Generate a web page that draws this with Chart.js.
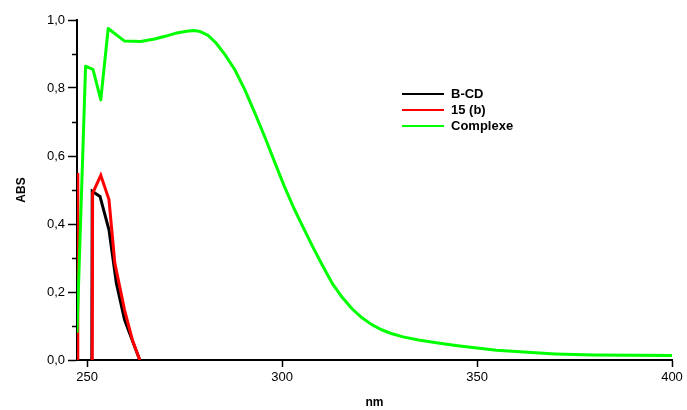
<!DOCTYPE html>
<html>
<head>
<meta charset="utf-8">
<script src="https://cdn.jsdelivr.net/npm/chart.js@4.4.1/dist/chart.umd.min.js"></script>
<style>
  html, body { margin: 0; padding: 0; background: #fff; }
  #wrap { position: relative; width: 687px; height: 410px; }
  #legend { position: absolute; left: 402px; top: 86px; font-family: 'Liberation Sans', Arial, sans-serif; font-weight: bold; font-size: 13px; color: #000; }
  .row { position: relative; height: 16px; line-height: 16px; white-space: nowrap; }
  .sw { position: absolute; left: 0; top: 7px; width: 42px; height: 2px; }
  .lb { position: absolute; left: 49px; top: 0; }
</style>
</head>
<body>
<div id="wrap">
  <canvas id="c" width="687" height="410"></canvas>
  <div id="legend"></div>
</div>
<script>
// ---- Data ----
const seriesNames = ['B-CD', '15 (b)', 'Complexe'];
const seriesColors = ['#000000', '#ff0000', '#00ff00'];

const bcdNm  = [251.0, 251.3, 253.3, 255.6, 257.5, 259.6, 262.2, 263.5];
const bcdAbs = [-1.0, 0.496, 0.481, 0.383, 0.226, 0.118, 0.039, 0.0];

const b15Nm  = [247.4, 247.6, 251.1, 251.4, 253.5, 255.6, 257.1, 259.6, 261.6, 263.5];
const b15Abs = [0.55, -1.0, -1.0, 0.490, 0.543, 0.472, 0.285, 0.147, 0.059, 0.0];

const cplxNm  = [247.4, 249.6, 251.5, 253.5, 255.4, 259.6, 263.7, 267.3, 270.0, 273.0, 275.5, 277.5, 279.0, 281.0, 283.0, 285.3, 287.8, 290.4, 293.0, 295.6, 298.0, 300.5, 303.0, 305.5, 308.0, 310.5, 313.0, 315.5, 318.0, 320.5, 323.0, 325.5, 328.0, 331.0, 335.0, 340.0, 345.0, 350.0, 355.0, 360.0, 365.0, 370.0, 375.0, 380.0, 390.0, 400.0];
const cplxAbs = [0.08, 0.864, 0.855, 0.765, 0.975, 0.938, 0.937, 0.944, 0.952, 0.962, 0.967, 0.969, 0.966, 0.955, 0.933, 0.899, 0.855, 0.796, 0.727, 0.655, 0.585, 0.513, 0.447, 0.388, 0.330, 0.275, 0.223, 0.183, 0.150, 0.124, 0.104, 0.089, 0.078, 0.068, 0.059, 0.050, 0.042, 0.035, 0.029, 0.025, 0.021, 0.018, 0.016, 0.015, 0.014, 0.013];

const xTicks = [250, 300, 350, 400];
const yMinorTicks = [0.1, 0.3, 0.5, 0.7, 0.9];
const xTitle = 'nm';
const yTitle = 'ABS';

// ---- Build ----
function pts(xs, ys) { return xs.map((x, i) => ({ x: x, y: ys[i] })); }

const FONT = "'Liberation Sans', Arial, sans-serif";

const minorTicksPlugin = {
  id: 'minorTicks',
  afterDraw(chart) {
    const y = chart.scales.y;
    const ctx = chart.ctx;
    ctx.save();
    ctx.strokeStyle = '#000';
    ctx.lineWidth = 1.5;
    yMinorTicks.forEach(v => {
      const py = Math.round(y.getPixelForValue(v)) + 0.5;
      ctx.beginPath();
      ctx.moveTo(y.right - 5, py);
      ctx.lineTo(y.right, py);
      ctx.stroke();
    });
    ctx.restore();
  }
};

new Chart(document.getElementById('c'), {
  type: 'scatter',
  data: {
    datasets: [
      { label: seriesNames[0], data: pts(bcdNm, bcdAbs), borderColor: seriesColors[0], showLine: true, pointRadius: 0, borderWidth: 3, tension: 0, order: 3 },
      { label: seriesNames[1], data: pts(b15Nm, b15Abs), borderColor: seriesColors[1], showLine: true, pointRadius: 0, borderWidth: 3, tension: 0, order: 2 },
      { label: seriesNames[2], data: pts(cplxNm, cplxAbs), borderColor: seriesColors[2], showLine: true, pointRadius: 0, borderWidth: 3, tension: 0, borderJoinStyle: 'round', order: 1 }
    ]
  },
  options: {
    responsive: false,
    animation: false,
    devicePixelRatio: 1,
    layout: { padding: { top: 20, right: 15, left: 0, bottom: 0 } },
    plugins: { legend: { display: false }, tooltip: { enabled: false } },
    scales: {
      x: {
        type: 'linear',
        min: 247.4,
        max: 400,
        afterBuildTicks(scale) { scale.ticks = xTicks.map(v => ({ value: v })); },
        afterFit(scale) { scale.height = 50; },
        border: { display: true, color: '#000', width: 2 },
        grid: { display: true, drawOnChartArea: false, drawTicks: true, tickLength: 7, tickColor: '#000', tickWidth: 1.5 },
        ticks: { color: '#000', font: { family: FONT, size: 13 }, padding: 3, maxRotation: 0, callback: v => String(v) },
        title: { display: true, text: xTitle, color: '#000', font: { family: FONT, size: 12, weight: 'bold' }, padding: { top: 0, bottom: 0 } }
      },
      y: {
        min: 0,
        max: 1,
        afterFit(scale) { scale.width = 77; },
        border: { display: true, color: '#000', width: 2 },
        grid: { display: true, drawOnChartArea: false, drawTicks: true, tickLength: 9, tickColor: '#000', tickWidth: 1.5 },
        ticks: { stepSize: 0.2, color: '#000', font: { family: FONT, size: 13 }, padding: 3, callback: v => v.toFixed(1).replace('.', ',') },
        title: { display: true, text: yTitle, color: '#000', font: { family: FONT, size: 12, weight: 'bold' }, padding: { top: 14, bottom: 0 } }
      }
    }
  },
  plugins: [minorTicksPlugin]
});

// HTML legend
const leg = document.getElementById('legend');
seriesNames.forEach((n, i) => {
  const r = document.createElement('div');
  r.className = 'row';
  const s = document.createElement('span');
  s.className = 'sw';
  s.style.background = seriesColors[i];
  const t = document.createElement('span');
  t.className = 'lb';
  t.textContent = n;
  r.appendChild(s); r.appendChild(t);
  leg.appendChild(r);
});
</script>
</body>
</html>
